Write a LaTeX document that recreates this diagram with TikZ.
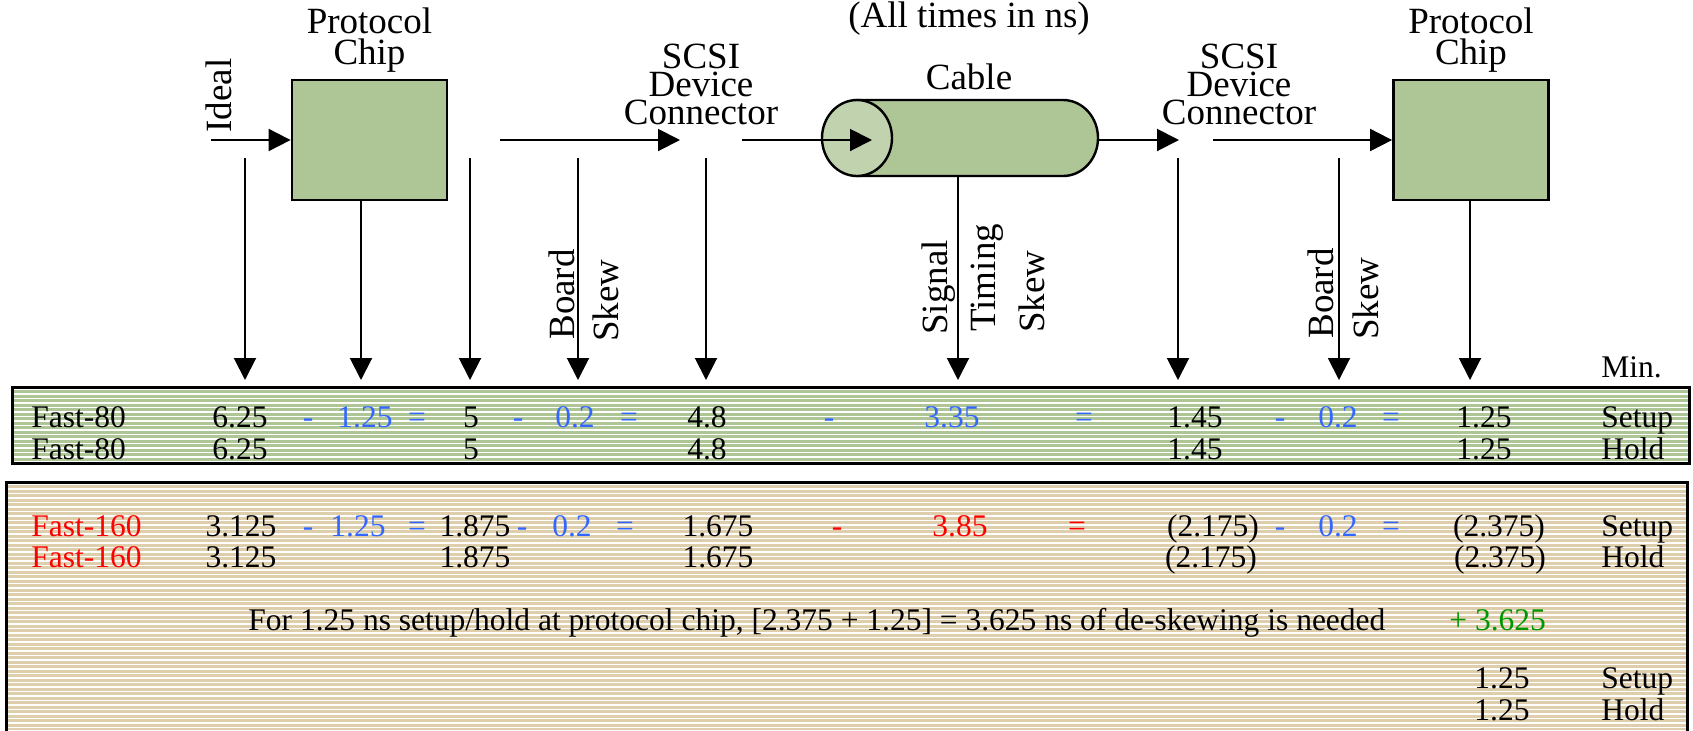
\documentclass[tikz,border=0pt]{standalone}
\usepackage{fontspec}
\setmainfont{Liberation Serif}
\usetikzlibrary{arrows.meta}
\definecolor{chipg}{RGB}{174,197,150}
\definecolor{lightg}{RGB}{193,210,175}
\definecolor{tanc}{RGB}{222,206,171}
\definecolor{tblue}{RGB}{51,102,255}
\definecolor{tred}{RGB}{255,0,0}
\definecolor{tgrn}{RGB}{0,150,0}
\begin{document}
\begin{tikzpicture}[x=0.5pt,y=-0.5pt,
 arr/.style={line width=1pt,-{Triangle[length=11pt,width=11pt]}},
 lbl/.style={font=\fontsize{18.5}{18.5}\selectfont,inner sep=0pt,anchor=base},
 rlbl/.style={lbl,rotate=90,anchor=base west},
 tx/.style={font=\fontsize{15.75}{15.75}\selectfont,inner sep=0pt,anchor=base},
 txl/.style={tx,anchor=base west},
 chip/.style={draw,line width=1.4pt,fill=chipg,minimum width=77.5pt,minimum height=60pt,inner sep=0pt},
 bk/.style={text=black}, bl/.style={text=tblue}, rd/.style={text=tred}, gn/.style={text=tgrn},
 stripe/.style={white,line width=0.55pt}]
\useasboundingbox (0,0) rectangle (1693,730);
\fill[white] (0,0) rectangle (1693,730);

% ---------- green table ----------
\fill[chipg] (12,387) rectangle (1689,463);
\foreach \yy in {389.5,394,...,462} \draw[stripe] (12,\yy) -- (1689,\yy);
\draw[line width=1.5pt] (12,387) rectangle (1689,463);

% ---------- tan table ----------
\fill[tanc] (6,482) rectangle (1687,730);
\foreach \yy in {484.5,489,...,730} \draw[stripe] (6,\yy) -- (1687,\yy);
\draw[line width=1.5pt] (6,731) -- (6,482) -- (1687,482) -- (1687,731);

% ---------- chips ----------
\node[chip] (chipL) at (369.5,140) {};
\node[chip] (chipR) at (1471,140) {};

% ---------- cable ----------
\fill[chipg,draw=black,line width=1.2pt] (857,100) -- (1063,100)
  arc[start angle=-90,end angle=90,x radius=35,y radius=38] -- (857,176) -- cycle;
\filldraw[fill=lightg,draw=black,line width=1.2pt] (857,138) ellipse [x radius=35,y radius=38];
\coordinate (cabIn) at (872,140);
\coordinate (cabOut) at (1098,140);
\coordinate (cabBot) at (958,176);

% ---------- top labels ----------
\node[lbl] (pl1) at (369.5,33) {Protocol};
\node[lbl] (pl2) at (369.5,64) {Chip};
\node[lbl] (pr1) at (1471,33) {Protocol};
\node[lbl] (pr2) at (1471,64) {Chip};
\node[lbl] (allt) at (969,27) {(All times in ns)};
\node[lbl] (sl1) at (701,68) {SCSI};
\node[lbl] (sl2) at (701,96) {Device};
\node[lbl] (sl3) at (701,124) {Connector};
\node[lbl] (sr1) at (1239,68) {SCSI};
\node[lbl] (sr2) at (1239,96) {Device};
\node[lbl] (sr3) at (1239,124) {Connector};
\node[lbl] (cab) at (969,89) {Cable};
\node[rlbl] (ideal) at (231,133) {Ideal};
\node[rlbl] (bl1) at (574,340) {Board};
\node[rlbl] (bl2) at (618,342) {Skew};
\node[rlbl] (br1) at (1333,339) {Board};
\node[rlbl] (br2) at (1378,340) {Skew};
\node[rlbl] (st1) at (947,335) {Signal};
\node[rlbl] (st2) at (995,332) {Timing};
\node[rlbl] (st3) at (1044,333) {Skew};

% ---------- horizontal flow ----------
\coordinate (idealS) at (211,140);
\coordinate (outL) at (500,140);
\coordinate (conLin) at (680,140);
\coordinate (conLout) at (742,140);
\coordinate (conRin) at (1179,140);
\coordinate (conRout) at (1213,140);
\draw[arr] (idealS) -- (chipL.west);
\draw[arr] (outL) -- (conLin);
\draw[arr] (conLout) -- (cabIn);
\draw[arr] (cabOut) -- (conRin);
\draw[arr] (conRout) -- (chipR.west);

% ---------- vertical arrows ----------
\foreach \px/\nm in {245/v1,361/v2,470/v3,578/v4,706/v5,958/v6,1178/v7,1339/v8,1470/v9}
  \coordinate (\nm) at (\px,380);
\foreach \px/\nm in {245/s1,470/s3,578/s4,706/s5,1178/s7,1339/s8}
  \coordinate (\nm) at (\px,158);
\draw[arr] (s1) -- (v1);
\draw[arr] (chipL.south -| v2) -- (v2);
\draw[arr] (s3) -- (v3);
\draw[arr] (s4) -- (v4);
\draw[arr] (s5) -- (v5);
\draw[arr] (cabBot) -- (v6);
\draw[arr] (s7) -- (v7);
\draw[arr] (s8) -- (v8);
\draw[arr] (chipR.south -| v9) -- (v9);

% ---------- table texts ----------
\node[txl] (minh) at (1601,377) {Min.};

\node[txl] (g1a) at (31,427) {Fast-80};
\foreach \px/\txt/\sty [count=\i] in {240/6.25/bk,308/-/bl,365/1.25/bl,417/=/bl,471/5/bk,518/-/bl,575/0.2/bl,629/=/bl,707/4.8/bk,829/-/bl,952/3.35/bl,1084/=/bl,1195/1.45/bk,1280/-/bl,1338/0.2/bl,1391/=/bl,1484/1.25/bk}
  \node[tx,\sty] (g1n\i) at (\px,427) {\txt};
\node[txl] (g1z) at (1601,427) {Setup};

\node[txl] (g2a) at (31,459) {Fast-80};
\foreach \px/\txt [count=\i] in {240/6.25,471/5,707/4.8,1195/1.45,1484/1.25}
  \node[tx] (g2n\i) at (\px,459) {\txt};
\node[txl] (g2z) at (1601,459) {Hold};

\node[txl,rd] (t1a) at (31,536) {Fast-160};
\foreach \px/\txt/\sty [count=\i] in {241/3.125/bk,308/-/bl,358/1.25/bl,417/=/bl,475/1.875/bk,522/-/bl,572/0.2/bl,625/=/bl,718/1.675/bk,837/-/rd,960/3.85/rd,1077/=/rd,1213/(2.175)/bk,1280/-/bl,1338/0.2/bl,1391/=/bl,1499/(2.375)/bk}
  \node[tx,\sty] (t1n\i) at (\px,536) {\txt};
\node[txl] (t1z) at (1601,536) {Setup};

\node[txl,rd] (t2a) at (31,567) {Fast-160};
\foreach \px/\txt [count=\i] in {241/3.125,475/1.875,718/1.675,1211/(2.175),1500/(2.375)}
  \node[tx] (t2n\i) at (\px,567) {\txt};
\node[txl] (t2z) at (1601,567) {Hold};

\node[txl] (sent) at (248,630) {For 1.25 ns setup/hold at protocol chip, [2.375 + 1.25] = 3.625 ns of de-skewing is needed};
\node[txl,gn] (plus) at (1449,630) {+ 3.625};

\node[tx] (t3n) at (1502,688) {1.25};
\node[txl] (t3z) at (1601,688) {Setup};
\node[tx] (t4n) at (1502,720) {1.25};
\node[txl] (t4z) at (1601,720) {Hold};
\end{tikzpicture}
\end{document}
